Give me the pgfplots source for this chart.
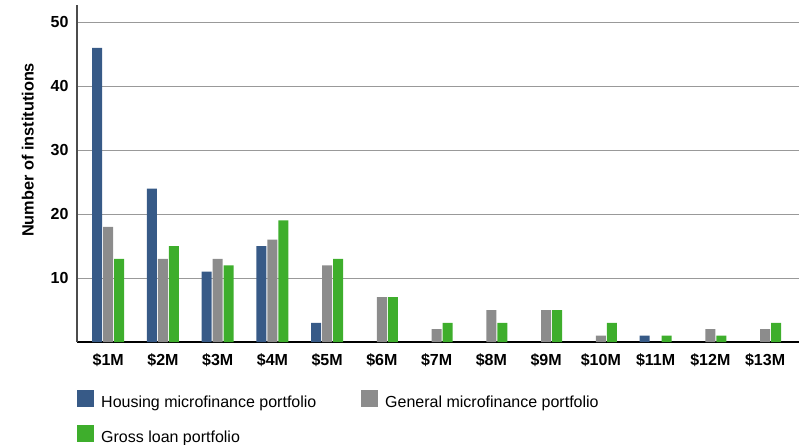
\documentclass[border=0pt]{standalone}
\usepackage{fontspec}
\setmainfont{Liberation Sans}
\usepackage{pgfplots}
\pgfplotsset{compat=1.18}
\definecolor{cblue}{HTML}{375A87}
\definecolor{cgray}{HTML}{8C8C8C}
\definecolor{cgreen}{HTML}{3EAE2C}
\begin{document}
\begin{tikzpicture}[x=1pt,y=1pt]
\useasboundingbox (0,0) rectangle (799,444);
\begin{axis}[
  at={(77pt,102pt)}, anchor=south west,
  scale only axis, width=722pt, height=337pt,
  ymin=0, ymax=52.7, xmin=-0.57, xmax=12.62,
  axis x line*=bottom, axis y line*=left,
  x axis line style={black, line width=1.2pt, -},
  y axis line style={draw=black!70, line width=1.5pt, -},
  ytick={10,20,30,40,50},
  xtick={0,...,12},
  xticklabels={\$1M,\$2M,\$3M,\$4M,\$5M,\$6M,\$7M,\$8M,\$9M,\$10M,\$11M,\$12M,\$13M},
  major tick length=0pt,
  ymajorgrids, grid style={black!40, line width=0.9pt},
  /pgf/number format/assume math mode=true,
  ticklabel style={font=\bfseries\fontsize{16}{19}\selectfont},
  yticklabel style={xshift=-5pt},
  xticklabel style={yshift=-8pt},
  ylabel={Number of institutions},
  ylabel style={at={(axis description cs:-0.068,0.57)}, rotate=0, anchor=center, font=\bfseries\fontsize{16.3}{19}\selectfont},
  ybar=1pt, bar width=10pt,
  legend style={at={(axis description cs:0,-0.142)}, anchor=north west, draw=none,
    font=\fontsize{16}{19}\selectfont, row sep=12.5pt, inner sep=0pt,
    nodes={inner sep=0pt}},
  legend columns=2,
  legend cell align=left,
  legend image code/.code={\fill[#1, draw=none] (0pt,-3pt) rectangle (17pt,14pt);},
]
\addplot[fill=cblue, draw=none] coordinates {(0,46)(1,24)(2,11)(3,15)(4,3)(10,1)};
\addplot[fill=cgray, draw=none] coordinates {(0,18)(1,13)(2,13)(3,16)(4,12)(5,7)(6,2)(7,5)(8,5)(9,1)(11,2)(12,2)};
\addplot[fill=cgreen, draw=none] coordinates {(0,13)(1,15)(2,12)(3,19)(4,13)(5,7)(6,3)(7,3)(8,5)(9,3)(10,1)(11,1)(12,3)};
\addlegendentry{\raisebox{3pt}{\hspace{7pt}\makebox[260pt][l]{Housing microfinance portfolio}}}
\addlegendentry{\raisebox{3pt}{\hspace{7pt}General microfinance portfolio}}
\addlegendentry{\raisebox{3pt}{\hspace{7pt}Gross loan portfolio}}
\end{axis}
\end{tikzpicture}
\end{document}
